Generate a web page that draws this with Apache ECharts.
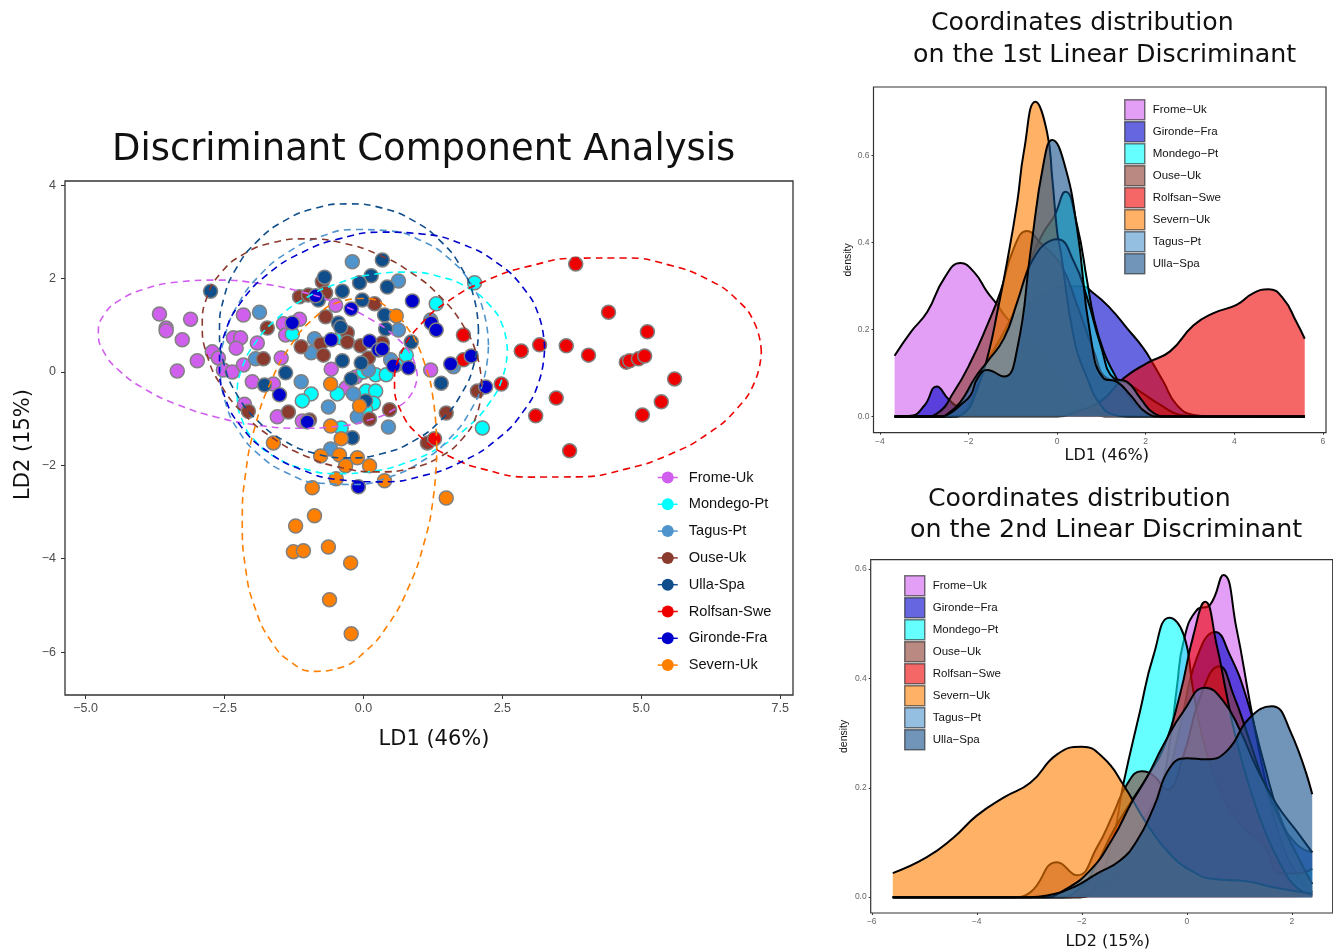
<!DOCTYPE html>
<html><head><meta charset="utf-8">
<style>html,body{margin:0;padding:0;background:#fff}.c{position:absolute;left:0;top:0;width:1333px;height:951px}</style>
<script src="https://cdn.jsdelivr.net/npm/echarts@6/dist/echarts.min.js"></script>
</head><body>
<div id="a" class="c"></div><div id="b" class="c"></div><div id="d" class="c"></div>
<script>
// ---- tick labels ----
const mainXTicks=[-5,-2.5,0,2.5,5,7.5];
const mainYTicks=[-6,-4,-2,0,2,4];
const ld1XTicks=[-4,-2,0,2,4,6];
const ld1YTicks=[0,0.2,0.4,0.6];
const ld2XTicks=[-6,-4,-2,0,2];
const ld2YTicks=[0,0.2,0.4,0.6];
// ---- scatter points (LD1, LD2) ----
const fromePts=[[-3.67,1.24],[-3.11,1.13],[-3.55,0.94],[-3.55,0.88],[-3.26,0.69],[-2.99,0.24],[-3.35,0.02],[-2.72,0.43],[-2.61,0.30],[-2.52,0.04],[-2.36,0],[-2.16,0.15],[-2.16,1.22],[-2.34,0.73],[-2.21,0.73],[-2.29,0.51],[-1.91,0.62],[-1.48,0.30],[-2.0,-0.21],[-1.62,-0.26],[-2.14,-0.69],[-1.55,-0.96],[-1.10,-1.05],[-0.58,0.06],[-0.50,1.43],[-1.44,1.03],[-1.15,1.13],[-1.40,0.79],[-0.31,-0.34],[-0.14,-0.11],[1.21,0.04]];
const mondegoPts=[[2.0,1.91],[1.31,1.46],[0.77,0.36],[0.58,0.15],[0.22,-0.06],[0.41,-0.06],[0,0],[0.05,-0.41],[0.22,-0.41],[0.18,-0.67],[-0.47,-0.47],[-0.94,-0.47],[-1.10,-0.62],[2.14,-1.20],[-0.40,-1.20],[-1.28,0.81],[0.04,-0.81],[-0.41,0.73]];
const tagusPts=[[-0.20,2.36],[0.63,1.95],[1.21,1.11],[0.63,0.90],[-0.88,0.71],[-0.94,0.41],[0.49,0.26],[0.09,0.04],[1.62,0.11],[-1.12,-0.21],[-0.18,-0.47],[-0.63,-0.75],[-0.11,-0.96],[0.45,-1.18],[-0.59,-1.65],[-1.87,1.28],[-1.94,0.28]];
const ousePts=[[-1.73,0.94],[-1.15,1.61],[-0.99,1.65],[-0.74,1.93],[-0.68,1.69],[-0.68,1.18],[-1.12,0.54],[-1.80,0.28],[-0.77,0.60],[-0.72,0.36],[-0.29,0.84],[-0.29,0.64],[-0.05,0.56],[-1.35,-0.86],[-0.97,-1.03],[-2.07,-0.84],[0.20,1.46],[0.34,0.62],[0.09,0.30],[0.47,-0.81],[0.11,-1.01],[1.49,-0.88],[2.05,-0.41],[1.15,-1.52]];
const ullaPts=[[0.34,2.40],[0.14,2.06],[-0.07,1.91],[0.43,1.82],[-0.38,1.73],[-0.70,2.03],[-0.81,1.54],[-0.02,1.54],[0.38,1.22],[0.40,0.92],[-0.45,1.05],[-0.41,0.96],[0.86,0.64],[-0.38,0.24],[-0.04,0.19],[-1.40,-0.02],[-0.22,-0.15],[1.40,-0.24],[0.04,-0.62],[-0.20,-1.41],[-2.75,1.73],[-1.78,-0.28]];
const rolfsanPts=[[3.82,2.31],[4.41,1.28],[5.11,0.86],[1.80,0.79],[2.84,0.45],[3.17,0.58],[3.65,0.56],[4.05,0.36],[4.73,0.21],[4.79,0.24],[4.95,0.28],[5.06,0.34],[5.60,-0.15],[2.48,-0.26],[1.80,0.26],[3.47,-0.56],[3.10,-0.94],[5.02,-0.92],[5.36,-0.64],[3.71,-1.69],[1.28,-1.43]];
const girondePts=[[0.88,1.52],[1.22,1.05],[1.31,0.90],[1.57,0.17],[1.94,0.34],[2.20,-0.32],[-0.86,1.63],[-0.22,1.35],[-0.58,0.69],[0.11,0.66],[0.27,0.47],[0.34,0.49],[0.54,0.13],[0.81,0.09],[-0.09,-2.46],[-1.28,1.05],[-1.51,-0.49],[-1.01,-1.07]];
const severnPts=[[0.59,1.20],[-0.59,-0.26],[-0.07,-0.73],[-0.59,-1.16],[-0.40,-1.43],[-0.43,-1.78],[-0.11,-1.84],[-0.77,-1.80],[-0.32,-2.01],[0.11,-2.01],[-0.49,-2.29],[0.38,-2.33],[-0.92,-2.48],[1.49,-2.70],[-1.62,-1.52],[-0.88,-3.08],[-1.22,-3.30],[-1.26,-3.85],[-1.08,-3.83],[-0.63,-3.75],[-0.23,-4.09],[-0.61,-4.88],[-0.22,-5.61]];
// ---- ellipse outlines ----
const fromeEll=[[0.97,-0.08],[0.872,0.33],[0.585,0.742],[0.129,1.13],[-0.465,1.466],[-1.157,1.729],[-1.9,1.90],[-2.643,1.967],[-3.335,1.926],[-3.929,1.78],[-4.385,1.538],[-4.672,1.218],[-4.77,0.84],[-4.672,0.43],[-4.385,0.018],[-3.929,-0.37],[-3.335,-0.706],[-2.643,-0.969],[-1.9,-1.14],[-1.157,-1.207],[-0.465,-1.166],[0.129,-1.02],[0.585,-0.778],[0.872,-0.458],[0.97,-0.08]];
const mondegoEll=[[2.59,0.45],[2.507,0.98],[2.264,1.441],[1.878,1.802],[1.375,2.041],[0.789,2.138],[0.16,2.088],[-0.469,1.894],[-1.055,1.571],[-1.558,1.138],[-1.944,0.627],[-2.187,0.072],[-2.27,-0.49],[-2.187,-1.02],[-1.944,-1.481],[-1.558,-1.842],[-1.055,-2.081],[-0.469,-2.178],[0.16,-2.128],[0.789,-1.934],[1.375,-1.611],[1.878,-1.178],[2.264,-0.667],[2.507,-0.112],[2.59,0.45]];
const tagusEll=[[2.25,0.57],[2.168,1.269],[1.927,1.902],[1.544,2.427],[1.045,2.809],[0.464,3.022],[-0.16,3.05],[-0.784,2.892],[-1.365,2.559],[-1.864,2.073],[-2.247,1.468],[-2.488,0.785],[-2.57,0.07],[-2.488,-0.629],[-2.247,-1.262],[-1.864,-1.787],[-1.365,-2.169],[-0.784,-2.382],[-0.16,-2.41],[0.464,-2.252],[1.045,-1.919],[1.544,-1.433],[1.927,-0.828],[2.168,-0.145],[2.25,0.57]];
const ouseEll=[[2.13,-0.295],[2.044,0.351],[1.793,0.997],[1.393,1.598],[0.873,2.116],[0.266,2.514],[-0.385,2.764],[-1.036,2.85],[-1.643,2.766],[-2.163,2.518],[-2.563,2.123],[-2.814,1.607],[-2.90,1.005],[-2.814,0.359],[-2.563,-0.287],[-2.163,-0.888],[-1.643,-1.406],[-1.036,-1.804],[-0.385,-2.054],[0.266,-2.14],[0.873,-2.056],[1.393,-1.808],[1.793,-1.413],[2.044,-0.897],[2.13,-0.295]];
const ullaEll=[[2.07,0.88],[1.991,1.584],[1.758,2.24],[1.387,2.803],[0.905,3.236],[0.343,3.508],[-0.26,3.60],[-0.863,3.508],[-1.425,3.236],[-1.907,2.803],[-2.278,2.24],[-2.511,1.584],[-2.59,0.88],[-2.511,0.176],[-2.278,-0.48],[-1.907,-1.043],[-1.425,-1.476],[-0.863,-1.748],[-0.26,-1.84],[0.343,-1.748],[0.905,-1.476],[1.387,-1.043],[1.758,-0.48],[1.991,0.176],[2.07,0.88]];
const rolfsanEll=[[7.16,0.425],[7.048,1.021],[6.718,1.552],[6.193,1.984],[5.51,2.288],[4.715,2.442],[3.86,2.437],[3.005,2.272],[2.21,1.958],[1.527,1.518],[1.002,0.98],[0.672,0.383],[0.56,-0.235],[0.672,-0.831],[1.002,-1.362],[1.527,-1.794],[2.21,-2.098],[3.005,-2.252],[3.86,-2.247],[4.715,-2.082],[5.51,-1.768],[6.193,-1.328],[6.718,-0.79],[7.048,-0.193],[7.16,0.425]];
const girondeEll=[[3.26,0.5],[3.161,1.187],[2.868,1.813],[2.403,2.338],[1.798,2.726],[1.093,2.95],[0.335,2.994],[-0.423,2.856],[-1.128,2.546],[-1.733,2.084],[-2.198,1.501],[-2.491,0.839],[-2.59,0.14],[-2.491,-0.547],[-2.198,-1.173],[-1.733,-1.698],[-1.128,-2.086],[-0.423,-2.31],[0.335,-2.354],[1.093,-2.216],[1.798,-1.906],[2.403,-1.444],[2.868,-0.861],[3.161,-0.199],[3.26,0.5]];
const severnEll=[[1.32,-1.62],[1.261,-0.632],[1.086,0.233],[0.807,0.917],[0.445,1.374],[0.023,1.573],[-0.43,1.499],[-0.883,1.159],[-1.305,0.574],[-1.667,-0.215],[-1.946,-1.153],[-2.121,-2.178],[-2.18,-3.22],[-2.121,-4.208],[-1.946,-5.073],[-1.667,-5.757],[-1.305,-6.214],[-0.883,-6.413],[-0.43,-6.339],[0.023,-5.999],[0.445,-5.414],[0.807,-4.625],[1.086,-3.687],[1.261,-2.662],[1.32,-1.62]];
// ---- LD1 densities ----
const ld1Frome=[[-3.67,0.14],[-3.3,0.195],[-2.93,0.241],[-2.55,0.318],[-2.18,0.353],[-1.88,0.333],[-1.58,0.287],[-1.35,0.257],[-1.13,0.226],[-0.75,0.19],[-0.3,0.15],[0.08,0.088],[0.45,0.034],[0.83,0.008],[1.2,0],[5.59,0]];
const ld1Gironde=[[-3.67,0],[-3.3,0.002],[-3.0,0.025],[-2.72,0.069],[-2.45,0.04],[-2.25,0.025],[-2.05,0.05],[-1.8,0.088],[-1.43,0.15],[-0.83,0.24],[-0.3,0.28],[0.15,0.30],[0.53,0.30],[0.83,0.283],[1.2,0.249],[1.58,0.203],[1.95,0.157],[2.18,0.119],[2.4,0.08],[2.7,0.027],[3.08,0.004],[3.5,0],[5.59,0]];
const ld1Mondego=[[-3.67,0],[-2.4,0],[-2.18,0.004],[-1.95,0.035],[-1.58,0.126],[-1.2,0.195],[-0.9,0.26],[-0.6,0.36],[-0.3,0.425],[-0.07,0.46],[0.19,0.517],[0.45,0.44],[0.68,0.31],[0.83,0.226],[1.05,0.15],[1.28,0.10],[1.58,0.05],[1.95,0.015],[2.33,0.002],[5.59,0]];
const ld1Ouse=[[-3.67,0],[-3.0,0],[-2.7,0.008],[-2.33,0.057],[-1.95,0.126],[-1.58,0.21],[-1.28,0.287],[-0.98,0.387],[-0.68,0.427],[-0.38,0.40],[0.08,0.35],[0.45,0.257],[0.83,0.15],[1.13,0.088],[1.5,0.08],[1.88,0.057],[2.33,0.027],[2.78,0.004],[3.2,0],[5.59,0]];
const ld1Rolfsan=[[-3.67,0],[0,0],[0.45,0.012],[0.98,0.035],[1.5,0.088],[2.03,0.123],[2.55,0.15],[3.08,0.21],[3.53,0.238],[4.05,0.257],[4.43,0.284],[4.77,0.293],[5.1,0.272],[5.4,0.218],[5.59,0.179]];
const ld1Severn=[[-3.67,0],[-2.4,0],[-2.1,0.008],[-1.8,0.065],[-1.54,0.15],[-1.35,0.241],[-1.13,0.356],[-0.9,0.494],[-0.75,0.61],[-0.49,0.724],[-0.23,0.655],[-0.11,0.548],[0,0.425],[0.08,0.38],[0.38,0.18],[0.68,0.088],[0.98,0.027],[1.28,0.004],[1.6,0],[5.59,0]];
const ld1Tagus=[[-3.67,0],[-2.6,0],[-2.45,0.008],[-2.18,0.034],[-1.85,0.09],[-1.58,0.126],[-1.2,0.18],[-0.9,0.264],[-0.68,0.333],[-0.53,0.364],[-0.3,0.395],[0,0.408],[0.38,0.356],[0.68,0.272],[0.98,0.165],[1.28,0.088],[1.58,0.08],[1.88,0.042],[2.18,0.008],[2.5,0],[5.59,0]];
const ld1Ulla=[[-3.67,0],[-2.7,0],[-2.45,0.006],[-2.18,0.027],[-1.95,0.05],[-1.8,0.088],[-1.58,0.107],[-1.2,0.092],[-0.9,0.157],[-0.6,0.38],[-0.3,0.586],[-0.11,0.636],[0.15,0.586],[0.45,0.433],[0.75,0.188],[1.05,0.088],[1.35,0.08],[1.65,0.05],[2.03,0.008],[2.35,0],[5.59,0]];
// ---- LD2 densities ----
const ld2Frome=[[-5.6,0],[-2.2,0],[-1.95,0.005],[-1.71,0.015],[-1.4,0.043],[-0.95,0.121],[-0.51,0.2],[-0.32,0.285],[-0.19,0.382],[-0.06,0.468],[0.19,0.525],[0.44,0.534],[0.7,0.589],[0.95,0.49],[1.2,0.358],[1.46,0.23],[1.78,0.109],[2.09,0.043],[2.39,0.009]];
const ld2Gironde=[[-5.6,0],[-2.1,0],[-1.71,0.012],[-1.33,0.043],[-0.89,0.121],[-0.44,0.2],[-0.13,0.31],[0.19,0.437],[0.54,0.485],[0.82,0.443],[1.14,0.364],[1.46,0.249],[1.78,0.146],[2.09,0.097],[2.39,0.082]];
const ld2Mondego=[[-5.6,0],[-2.0,0],[-1.71,0.024],[-1.4,0.109],[-1.21,0.206],[-0.89,0.34],[-0.63,0.443],[-0.33,0.511],[-0.06,0.48],[0.12,0.38],[0.32,0.285],[0.7,0.182],[1.14,0.121],[1.46,0.097],[1.78,0.043],[2.09,0.043],[2.39,0.052]];
const ld2Ouse=[[-5.6,0],[-3.3,0],[-2.98,0.009],[-2.47,0.064],[-2.09,0.04],[-1.71,0.091],[-1.4,0.152],[-1.14,0.206],[-0.86,0.23],[-0.63,0.222],[-0.38,0.197],[-0.06,0.26],[0.25,0.364],[0.62,0.422],[0.89,0.37],[1.2,0.285],[1.46,0.212],[1.78,0.14],[2.09,0.079],[2.39,0.024]];
const ld2Rolfsan=[[-5.6,0],[-2.4,0],[-2.09,0.012],[-1.78,0.049],[-1.4,0.121],[-1.05,0.176],[-0.76,0.219],[-0.44,0.273],[-0.13,0.37],[0.13,0.48],[0.35,0.54],[0.57,0.461],[0.76,0.37],[0.95,0.285],[1.2,0.2],[1.46,0.128],[1.78,0.061],[2.09,0.018],[2.39,0.003]];
const ld2Severn=[[-5.6,0.044],[-4.95,0.073],[-4.44,0.109],[-4,0.149],[-3.49,0.182],[-2.98,0.209],[-2.47,0.261],[-2,0.275],[-1.59,0.255],[-1.21,0.206],[-0.76,0.134],[-0.32,0.079],[0.13,0.046],[0.51,0.033],[1.14,0.029],[1.65,0.018],[2.39,0.006]];
const ld2Tagus=[[-5.6,0],[-2.7,0],[-2.35,0.012],[-1.84,0.049],[-1.4,0.109],[-1.05,0.173],[-0.76,0.219],[-0.44,0.279],[-0.06,0.34],[0.35,0.383],[0.7,0.358],[1.02,0.304],[1.33,0.237],[1.71,0.17],[2.09,0.121],[2.39,0.082]];
const ld2Ulla=[[-5.6,0],[-3.0,0],[-2.66,0.003],[-2.16,0.018],[-1.71,0.043],[-1.27,0.067],[-0.95,0.103],[-0.63,0.164],[-0.32,0.237],[0,0.254],[0.38,0.252],[0.76,0.267],[1.2,0.328],[1.62,0.349],[1.97,0.304],[2.39,0.188]];
// ---- names & colours ----
const mainNames=['Frome-Uk','Mondego-Pt','Tagus-Pt','Ouse-Uk','Ulla-Spa','Rolfsan-Swe','Gironde-Fra','Severn-Uk'];
const mainColors=['#D15FEE','#00FFFF','#4F94CD','#8B3A2E','#104E8B','#EE0000','#0000CD','#FF7F00'];
const mainPts=[fromePts,mondegoPts,tagusPts,ousePts,ullaPts,rolfsanPts,girondePts,severnPts];
const mainEll=[fromeEll,mondegoEll,tagusEll,ouseEll,ullaEll,rolfsanEll,girondeEll,severnEll];
const densNames=['Frome\u2212Uk','Gironde\u2212Fra','Mondego\u2212Pt','Ouse\u2212Uk','Rolfsan\u2212Swe','Severn\u2212Uk','Tagus\u2212Pt','Ulla\u2212Spa'];
const densColors=['#D15FEE','#0000CD','#00FFFF','#8B3A2E','#EE0000','#FF7F00','#4F94CD','#104E8B'];
const ld1Dens=[ld1Frome,ld1Gironde,ld1Mondego,ld1Ouse,ld1Rolfsan,ld1Severn,ld1Tagus,ld1Ulla];
const ld2Dens=[ld2Frome,ld2Gironde,ld2Mondego,ld2Ouse,ld2Rolfsan,ld2Severn,ld2Tagus,ld2Ulla];

const DJ='"DejaVu Sans"', LB='"Liberation Sans"';
const minus=s=>String(s).replace('-','\u2212');
function titleAt(text,x,y,size){return {text,left:x,top:y,padding:0,textStyle:{fontFamily:DJ,fontWeight:'normal',fontSize:size,color:'#111'}};}
function axis(min,max,ticks,fmt,fs,col,tickLen,margin,extra){
  return Object.assign({type:'value',min,max,splitLine:{show:false},axisLine:{show:false,onZero:false},
    axisTick:{show:true,length:tickLen,lineStyle:{color:'#333',width:1},customValues:ticks},
    axisLabel:{fontFamily:LB,fontSize:fs,color:col,margin,formatter:fmt,customValues:ticks,showMinLabel:true,showMaxLabel:true}},extra||{});
}
function draw(id,opt){const c=echarts.init(document.getElementById(id),null,{renderer:'canvas'});c.setOption(opt);}

// ---- main chart ----
draw('a',{animation:false,backgroundColor:'#fff',
  title:[titleAt('Discriminant Component Analysis',112,132,36.9),
    titleAt('Coordinates distribution',931,11,25.2),titleAt('on the 1st Linear Discriminant',913,43,25.3),
    titleAt('Coordinates distribution',928,487,25.2),titleAt('on the 2nd Linear Discriminant',910,518,25.3)],
  grid:{left:65,top:181,width:728,height:514,show:true,borderColor:'#333',borderWidth:1.3,backgroundColor:'#fff'},
  xAxis:axis(-5.37,7.73,mainXTicks,v=>minus(v.toFixed(1)),12.5,'#4d4d4d',4,7,{name:'LD1 (46%)',nameLocation:'middle',nameGap:34,nameTextStyle:{fontFamily:DJ,fontSize:21,color:'#111',padding:[0,0,0,10]}}),
  yAxis:axis(-6.92,4.09,mainYTicks,v=>minus(v),12.5,'#4d4d4d',4,9,{name:'LD2 (15%)',nameLocation:'middle',nameGap:31,nameRotate:90,nameMoveOverlap:false,nameTextStyle:{fontFamily:DJ,fontSize:21,color:'#111',padding:[0,13,0,0]}}),
  legend:{orient:'vertical',left:652,top:465,itemWidth:20,itemHeight:15,itemGap:11.8,data:mainNames,
    lineStyle:{type:'solid',width:1.5},textStyle:{fontFamily:LB,fontSize:14.6,color:'#111',padding:[0,0,0,6]}},
  series:[
    ...mainNames.map((n,i)=>({name:n,type:'line',data:mainEll[i],smooth:0.5,symbol:'circle',showSymbol:false,z:5,silent:true,
      itemStyle:{color:mainColors[i]},lineStyle:{color:mainColors[i],type:[7,5],width:1.6}})),
    ...mainNames.map((n,i)=>({name:n,type:'scatter',data:mainPts[i],symbol:'circle',symbolSize:14,z:3,
      itemStyle:{color:mainColors[i],borderColor:'#808080',borderWidth:1.5,opacity:1}}))
  ]});

function densOpt(g,xr,yr,xt,yt,data,xname,legendPos,nameGapX,padX,nameGapY){
  return {animation:false,
    grid:Object.assign({show:true,borderColor:'#333',borderWidth:1.2},g),
    xAxis:axis(xr[0],xr[1],xt,v=>minus(v),8.5,'#666',2,4,{name:xname,nameLocation:'middle',nameGap:nameGapX,nameTextStyle:{fontFamily:DJ,fontSize:16,color:'#111',padding:[0,0,0,padX]}}),
    yAxis:axis(yr[0],yr[1],yt,v=>v.toFixed(1),8.5,'#666',2,4,{name:'density',nameLocation:'middle',nameGap:nameGapY,nameTextStyle:{fontFamily:LB,fontSize:10.5,color:'#111'}}),
    legend:Object.assign({orient:'vertical',itemWidth:20,itemHeight:20,itemGap:0.5,
      data:densNames.map((n,i)=>({name:n,icon:'rect',itemStyle:{color:densColors[i],opacity:0.6,borderColor:'#222',borderWidth:1.5}})),
      textStyle:{fontFamily:LB,fontSize:11.5,color:'#111',padding:[0,0,0,3]}},legendPos),
    series:densNames.map((n,i)=>({name:n,type:'line',data:data[i],smooth:0.5,showSymbol:false,symbol:'none',silent:true,z:2+i,
      lineStyle:{color:'#000',width:2},itemStyle:{color:densColors[i]},areaStyle:{color:densColors[i],opacity:0.6}}))};
}
draw('b',densOpt({left:873.5,top:87,width:452.5,height:345.7},[-4.146,6.07],[-0.037,0.758],ld1XTicks,ld1YTicks,ld1Dens,'LD1 (46%)',{left:1119,top:94},15,14,19));
draw('d',densOpt({left:870.7,top:559.7,width:462,height:354.6},[-6.02,2.78],[-0.029,0.617],ld2XTicks,ld2YTicks,ld2Dens,'LD2 (15%)',{left:899,top:570},21,12,21));
</script></body></html>
